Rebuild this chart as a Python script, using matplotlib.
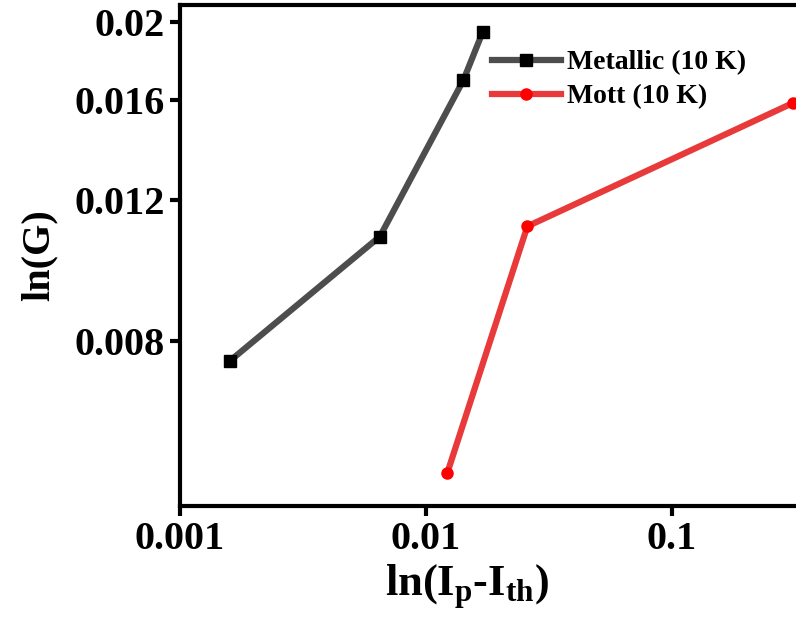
import numpy as np
import matplotlib
matplotlib.use("Agg")
import matplotlib.pyplot as plt

plt.rcParams['font.family'] = ['Liberation Serif', 'DejaVu Serif']
plt.rcParams['font.weight'] = 'bold'
plt.rcParams['mathtext.fontset'] = 'custom'
plt.rcParams['mathtext.rm'] = 'Liberation Serif:bold'
plt.rcParams['mathtext.bf'] = 'Liberation Serif:bold'
plt.rcParams['mathtext.it'] = 'Liberation Serif:bold'
plt.rcParams['mathtext.default'] = 'bf'

# data
metal_x = [0.0016, 0.0065, 0.0142, 0.0170]
metal_y = [0.00755, 0.01079, 0.01691, 0.01941]
mott_x = [0.01223, 0.02586, 0.312]
mott_y = [0.00547, 0.01111, 0.01585]

y_ticks = [0.008, 0.012, 0.016, 0.02]
y_labels = ['0.008', '0.012', '0.016', '0.02']
x_ticks = [0.001, 0.01, 0.1]
x_labels = ['0.001', '0.01', '0.1']

fig = plt.figure(figsize=(7.96, 6.22), dpi=100)
ax = fig.add_axes([180 / 796, 1 - 506 / 622, 616 / 796, 501 / 622])

ax.plot(metal_x, metal_y, color='#4d4d4d', linewidth=4.5, marker='s',
        markersize=8, markerfacecolor='black', markeredgecolor='black',
        label='Metallic (10 K)')
ax.plot(mott_x, mott_y, color='#e83a3a', linewidth=4.5, marker='o',
        markersize=8, markerfacecolor='red', markeredgecolor='red',
        label='Mott (10 K)')

ax.set_xscale('log')
ax.set_yscale('log')
ax.set_xlim(0.001, 0.32)
ax.set_ylim(0.00497, 0.0210)

ax.set_xticks(x_ticks)
ax.set_xticklabels(x_labels)
ax.set_yticks(y_ticks)
ax.set_yticklabels(y_labels)
ax.minorticks_off()
ax.tick_params(axis='both', direction='out', length=7, width=3,
               labelsize=29, pad=4)
for lab in ax.get_xticklabels() + ax.get_yticklabels():
    lab.set_fontweight('bold')

for side in ['left', 'bottom', 'top']:
    ax.spines[side].set_linewidth(3)
ax.spines['right'].set_visible(False)

ax.set_xlabel(r'ln(I$_{\mathbf{p}}$-I$_{\mathbf{th}}$)', fontsize=32,
              fontweight='bold')
ax.xaxis.set_label_coords((467 - 180) / 616, -0.112)
ax.set_ylabel('ln(G)', fontsize=29, fontweight='bold', labelpad=12)

ax.legend(loc='upper left', bbox_to_anchor=(0.506, 0.91), frameon=False,
          fontsize=20, handlelength=2.5, handletextpad=0.2,
          labelspacing=0.3, borderpad=0, borderaxespad=0)

fig.savefig('out.png', dpi=100)
